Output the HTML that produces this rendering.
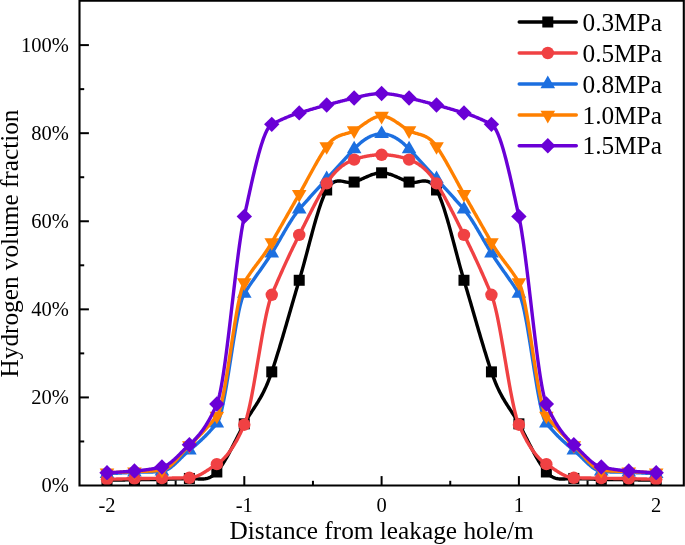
<!DOCTYPE html>
<html><head><meta charset="utf-8"><title>Hydrogen volume fraction</title>
<style>
html,body{margin:0;padding:0;background:#fff;}
body{width:685px;height:545px;overflow:hidden;}
svg{display:block;will-change:transform;}
text{font-family:"Liberation Serif",serif;fill:#000;}
</style></head><body>
<svg width="685" height="545" viewBox="0 0 685 545">
<rect width="685" height="545" fill="#fff"/>
<defs><clipPath id="c"><rect x="80" y="1" width="603" height="484.6"/></clipPath></defs>
<path d="M79.5 441.46h4.7" stroke="#000" stroke-width="2"/>
<path d="M79.5 397.42h9.4" stroke="#000" stroke-width="2"/>
<path d="M79.5 353.38h4.7" stroke="#000" stroke-width="2"/>
<path d="M79.5 309.34h9.4" stroke="#000" stroke-width="2"/>
<path d="M79.5 265.30h4.7" stroke="#000" stroke-width="2"/>
<path d="M79.5 221.26h9.4" stroke="#000" stroke-width="2"/>
<path d="M79.5 177.22h4.7" stroke="#000" stroke-width="2"/>
<path d="M79.5 133.18h9.4" stroke="#000" stroke-width="2"/>
<path d="M79.5 89.14h4.7" stroke="#000" stroke-width="2"/>
<path d="M79.5 45.10h9.4" stroke="#000" stroke-width="2"/>
<path d="M107.00 485.5v-9.4" stroke="#000" stroke-width="2"/>
<path d="M175.65 485.5v-4.7" stroke="#000" stroke-width="2"/>
<path d="M244.30 485.5v-9.4" stroke="#000" stroke-width="2"/>
<path d="M312.95 485.5v-4.7" stroke="#000" stroke-width="2"/>
<path d="M381.60 485.5v-9.4" stroke="#000" stroke-width="2"/>
<path d="M450.25 485.5v-4.7" stroke="#000" stroke-width="2"/>
<path d="M518.90 485.5v-9.4" stroke="#000" stroke-width="2"/>
<path d="M587.55 485.5v-4.7" stroke="#000" stroke-width="2"/>
<path d="M656.20 485.5v-9.4" stroke="#000" stroke-width="2"/>
<g clip-path="url(#c)">
<polyline points="107.00,480.22 107.69,480.20 108.37,480.19 109.06,480.18 109.75,480.17 110.43,480.16 111.12,480.15 111.81,480.14 112.49,480.13 113.18,480.12 113.86,480.11 114.55,480.09 115.24,480.08 115.92,480.07 116.61,480.06 117.30,480.05 117.98,480.04 118.67,480.03 119.36,480.02 120.04,480.01 120.73,480.00 121.42,479.98 122.10,479.97 122.79,479.96 123.48,479.95 124.16,479.94 124.85,479.93 125.54,479.92 126.22,479.91 126.91,479.90 127.59,479.88 128.28,479.87 128.97,479.86 129.65,479.85 130.34,479.84 131.03,479.83 131.71,479.82 132.40,479.81 133.09,479.80 133.77,479.79 134.46,479.77 135.15,479.76 135.83,479.75 136.52,479.74 137.21,479.73 137.89,479.72 138.58,479.71 139.27,479.70 139.95,479.69 140.64,479.68 141.32,479.66 142.01,479.65 142.70,479.64 143.38,479.63 144.07,479.62 144.76,479.61 145.44,479.60 146.13,479.59 146.82,479.58 147.50,479.57 148.19,479.55 148.88,479.54 149.56,479.53 150.25,479.52 150.94,479.51 151.62,479.50 152.31,479.49 153.00,479.48 153.68,479.47 154.37,479.46 155.06,479.44 155.74,479.43 156.43,479.42 157.11,479.41 157.80,479.40 158.49,479.39 159.17,479.38 159.86,479.37 160.55,479.36 161.23,479.35 161.92,479.33 162.61,479.32 163.29,479.31 163.98,479.30 164.67,479.28 165.35,479.27 166.04,479.25 166.73,479.23 167.41,479.22 168.10,479.20 168.79,479.18 169.47,479.16 170.16,479.14 170.84,479.12 171.53,479.10 172.22,479.07 172.90,479.05 173.59,479.03 174.28,479.00 174.96,478.98 175.65,478.96 176.34,478.93 177.02,478.91 177.71,478.88 178.40,478.86 179.08,478.83 179.77,478.81 180.46,478.78 181.14,478.75 181.83,478.73 182.52,478.70 183.20,478.68 183.89,478.65 184.57,478.63 185.26,478.60 185.95,478.58 186.63,478.55 187.32,478.53 188.01,478.50 188.69,478.48 189.38,478.45 190.07,478.44 190.75,478.44 191.44,478.45 192.13,478.48 192.81,478.51 193.50,478.56 194.19,478.60 194.87,478.66 195.56,478.71 196.25,478.77 196.93,478.83 197.62,478.88 198.30,478.93 198.99,478.97 199.68,479.01 200.36,479.03 201.05,479.05 201.74,479.05 202.42,479.03 203.11,479.00 203.80,478.95 204.48,478.88 205.17,478.78 205.86,478.66 206.54,478.52 207.23,478.34 207.92,478.14 208.60,477.91 209.29,477.64 209.98,477.33 210.66,476.99 211.35,476.62 212.03,476.20 212.72,475.74 213.41,475.23 214.09,474.68 214.78,474.08 215.47,473.43 216.15,472.73 216.84,471.98 217.53,471.18 218.21,470.34 218.90,469.47 219.59,468.56 220.27,467.61 220.96,466.63 221.65,465.62 222.33,464.58 223.02,463.52 223.71,462.42 224.39,461.30 225.08,460.15 225.76,458.98 226.45,457.79 227.14,456.58 227.82,455.35 228.51,454.11 229.20,452.84 229.88,451.57 230.57,450.27 231.26,448.97 231.94,447.66 232.63,446.34 233.32,445.01 234.00,443.67 234.69,442.33 235.38,440.99 236.06,439.64 236.75,438.29 237.44,436.95 238.12,435.60 238.81,434.26 239.49,432.93 240.18,431.60 240.87,430.28 241.55,428.97 242.24,427.67 242.93,426.38 243.61,425.10 244.30,423.84 244.99,422.61 245.67,421.40 246.36,420.22 247.05,419.06 247.73,417.93 248.42,416.82 249.11,415.72 249.79,414.63 250.48,413.56 251.17,412.50 251.85,411.44 252.54,410.39 253.22,409.33 253.91,408.28 254.60,407.22 255.28,406.16 255.97,405.08 256.66,404.00 257.34,402.90 258.03,401.78 258.72,400.64 259.40,399.48 260.09,398.30 260.78,397.09 261.46,395.85 262.15,394.57 262.84,393.26 263.52,391.92 264.21,390.53 264.90,389.10 265.58,387.63 266.27,386.10 266.95,384.53 267.64,382.90 268.33,381.22 269.01,379.48 269.70,377.68 270.39,375.81 271.07,373.88 271.76,371.88 272.45,369.83 273.13,367.75 273.82,365.66 274.51,363.54 275.19,361.39 275.88,359.23 276.57,357.05 277.25,354.84 277.94,352.62 278.62,350.39 279.31,348.13 280.00,345.86 280.68,343.58 281.37,341.28 282.06,338.98 282.74,336.66 283.43,334.33 284.12,331.99 284.80,329.65 285.49,327.29 286.18,324.93 286.86,322.57 287.55,320.20 288.24,317.83 288.92,315.46 289.61,313.08 290.30,310.71 290.98,308.33 291.67,305.96 292.36,303.59 293.04,301.23 293.73,298.86 294.41,296.51 295.10,294.16 295.79,291.82 296.47,289.49 297.16,287.17 297.85,284.86 298.53,282.56 299.22,280.27 299.91,277.97 300.59,275.62 301.28,273.23 301.97,270.80 302.65,268.34 303.34,265.85 304.03,263.33 304.71,260.79 305.40,258.22 306.09,255.65 306.77,253.06 307.46,250.46 308.14,247.86 308.83,245.26 309.52,242.67 310.20,240.08 310.89,237.50 311.58,234.94 312.26,232.40 312.95,229.87 313.64,227.38 314.32,224.91 315.01,222.48 315.70,220.09 316.38,217.74 317.07,215.43 317.76,213.17 318.44,210.97 319.13,208.82 319.82,206.73 320.50,204.71 321.19,202.75 321.87,200.86 322.56,199.05 323.25,197.32 323.93,195.68 324.62,194.12 325.31,192.65 325.99,191.27 326.68,189.99 327.37,188.82 328.05,187.74 328.74,186.76 329.43,185.87 330.11,185.07 330.80,184.36 331.49,183.73 332.17,183.17 332.86,182.69 333.55,182.27 334.23,181.92 334.92,181.63 335.60,181.39 336.29,181.21 336.98,181.08 337.66,180.99 338.35,180.95 339.04,180.94 339.72,180.96 340.41,181.02 341.10,181.09 341.78,181.19 342.47,181.31 343.16,181.44 343.84,181.58 344.53,181.72 345.22,181.86 345.90,182.01 346.59,182.14 347.28,182.27 347.96,182.38 348.65,182.47 349.33,182.54 350.02,182.58 350.71,182.60 351.39,182.57 352.08,182.51 352.77,182.41 353.45,182.26 354.14,182.06 354.83,181.83 355.51,181.59 356.20,181.34 356.89,181.08 357.57,180.81 358.26,180.53 358.95,180.24 359.63,179.95 360.32,179.65 361.01,179.35 361.69,179.05 362.38,178.74 363.06,178.44 363.75,178.13 364.44,177.82 365.12,177.51 365.81,177.21 366.50,176.91 367.18,176.61 367.87,176.31 368.56,176.03 369.24,175.75 369.93,175.47 370.62,175.21 371.30,174.95 371.99,174.70 372.68,174.47 373.36,174.25 374.05,174.04 374.74,173.84 375.42,173.66 376.11,173.49 376.79,173.34 377.48,173.21 378.17,173.09 378.85,172.99 379.54,172.92 380.23,172.86 380.91,172.83 381.60,172.82 382.29,172.83 382.97,172.86 383.66,172.92 384.35,172.99 385.03,173.09 385.72,173.21 386.41,173.34 387.09,173.49 387.78,173.66 388.47,173.84 389.15,174.04 389.84,174.25 390.52,174.47 391.21,174.70 391.90,174.95 392.58,175.21 393.27,175.47 393.96,175.75 394.64,176.03 395.33,176.31 396.02,176.61 396.70,176.91 397.39,177.21 398.08,177.51 398.76,177.82 399.45,178.13 400.14,178.44 400.82,178.74 401.51,179.05 402.20,179.35 402.88,179.65 403.57,179.95 404.25,180.24 404.94,180.53 405.63,180.81 406.31,181.08 407.00,181.34 407.69,181.59 408.37,181.83 409.06,182.06 409.75,182.26 410.43,182.41 411.12,182.51 411.81,182.57 412.49,182.60 413.18,182.58 413.87,182.54 414.55,182.47 415.24,182.38 415.93,182.27 416.61,182.14 417.30,182.01 417.98,181.86 418.67,181.72 419.36,181.58 420.04,181.44 420.73,181.31 421.42,181.19 422.10,181.09 422.79,181.02 423.48,180.96 424.16,180.94 424.85,180.95 425.54,180.99 426.22,181.08 426.91,181.21 427.60,181.39 428.28,181.63 428.97,181.92 429.66,182.27 430.34,182.69 431.03,183.17 431.71,183.73 432.40,184.36 433.09,185.07 433.77,185.87 434.46,186.76 435.15,187.74 435.83,188.82 436.52,189.99 437.21,191.27 437.89,192.65 438.58,194.12 439.27,195.68 439.95,197.32 440.64,199.05 441.33,200.86 442.01,202.75 442.70,204.71 443.39,206.73 444.07,208.82 444.76,210.97 445.44,213.17 446.13,215.43 446.82,217.74 447.50,220.09 448.19,222.48 448.88,224.91 449.56,227.38 450.25,229.87 450.94,232.40 451.62,234.94 452.31,237.50 453.00,240.08 453.68,242.67 454.37,245.26 455.06,247.86 455.74,250.46 456.43,253.06 457.12,255.65 457.80,258.22 458.49,260.79 459.17,263.33 459.86,265.85 460.55,268.34 461.23,270.80 461.92,273.23 462.61,275.62 463.29,277.97 463.98,280.27 464.67,282.56 465.35,284.86 466.04,287.17 466.73,289.49 467.41,291.82 468.10,294.16 468.79,296.51 469.47,298.86 470.16,301.23 470.85,303.59 471.53,305.96 472.22,308.33 472.90,310.71 473.59,313.08 474.28,315.46 474.96,317.83 475.65,320.20 476.34,322.57 477.02,324.93 477.71,327.29 478.40,329.65 479.08,331.99 479.77,334.33 480.46,336.66 481.14,338.98 481.83,341.28 482.52,343.58 483.20,345.86 483.89,348.13 484.58,350.39 485.26,352.62 485.95,354.84 486.63,357.05 487.32,359.23 488.01,361.39 488.69,363.54 489.38,365.66 490.07,367.75 490.75,369.83 491.44,371.88 492.13,373.88 492.81,375.81 493.50,377.68 494.19,379.48 494.87,381.22 495.56,382.90 496.25,384.53 496.93,386.10 497.62,387.63 498.31,389.10 498.99,390.53 499.68,391.92 500.36,393.26 501.05,394.57 501.74,395.85 502.42,397.09 503.11,398.30 503.80,399.48 504.48,400.64 505.17,401.78 505.86,402.90 506.54,404.00 507.23,405.08 507.92,406.16 508.60,407.22 509.29,408.28 509.98,409.33 510.66,410.39 511.35,411.44 512.04,412.50 512.72,413.56 513.41,414.63 514.09,415.72 514.78,416.82 515.47,417.93 516.15,419.06 516.84,420.22 517.53,421.40 518.21,422.61 518.90,423.84 519.59,425.10 520.27,426.38 520.96,427.67 521.65,428.97 522.33,430.28 523.02,431.60 523.71,432.93 524.39,434.26 525.08,435.60 525.77,436.95 526.45,438.29 527.14,439.64 527.82,440.99 528.51,442.33 529.20,443.67 529.88,445.01 530.57,446.34 531.26,447.66 531.94,448.97 532.63,450.27 533.32,451.57 534.00,452.84 534.69,454.11 535.38,455.35 536.06,456.58 536.75,457.79 537.44,458.98 538.12,460.15 538.81,461.30 539.50,462.42 540.18,463.52 540.87,464.58 541.55,465.62 542.24,466.63 542.93,467.61 543.61,468.56 544.30,469.47 544.99,470.34 545.67,471.18 546.36,471.98 547.05,472.73 547.73,473.43 548.42,474.08 549.11,474.68 549.79,475.23 550.48,475.74 551.17,476.20 551.85,476.62 552.54,476.99 553.23,477.33 553.91,477.64 554.60,477.91 555.28,478.14 555.97,478.34 556.66,478.52 557.34,478.66 558.03,478.78 558.72,478.88 559.40,478.95 560.09,479.00 560.78,479.03 561.46,479.05 562.15,479.05 562.84,479.03 563.52,479.01 564.21,478.97 564.90,478.93 565.58,478.88 566.27,478.83 566.96,478.77 567.64,478.71 568.33,478.66 569.01,478.60 569.70,478.56 570.39,478.51 571.07,478.48 571.76,478.45 572.45,478.44 573.13,478.44 573.82,478.45 574.51,478.48 575.19,478.50 575.88,478.53 576.57,478.55 577.25,478.58 577.94,478.60 578.63,478.63 579.31,478.65 580.00,478.68 580.69,478.70 581.37,478.73 582.06,478.75 582.74,478.78 583.43,478.81 584.12,478.83 584.80,478.86 585.49,478.88 586.18,478.91 586.86,478.93 587.55,478.96 588.24,478.98 588.92,479.00 589.61,479.03 590.30,479.05 590.98,479.07 591.67,479.10 592.36,479.12 593.04,479.14 593.73,479.16 594.42,479.18 595.10,479.20 595.79,479.22 596.47,479.23 597.16,479.25 597.85,479.27 598.53,479.28 599.22,479.30 599.91,479.31 600.59,479.32 601.28,479.33 601.97,479.35 602.65,479.36 603.34,479.37 604.03,479.38 604.71,479.39 605.40,479.40 606.09,479.41 606.77,479.42 607.46,479.43 608.15,479.44 608.83,479.46 609.52,479.47 610.20,479.48 610.89,479.49 611.58,479.50 612.26,479.51 612.95,479.52 613.64,479.53 614.32,479.54 615.01,479.55 615.70,479.57 616.38,479.58 617.07,479.59 617.76,479.60 618.44,479.61 619.13,479.62 619.82,479.63 620.50,479.64 621.19,479.65 621.88,479.66 622.56,479.68 623.25,479.69 623.93,479.70 624.62,479.71 625.31,479.72 625.99,479.73 626.68,479.74 627.37,479.75 628.05,479.76 628.74,479.77 629.43,479.79 630.11,479.80 630.80,479.81 631.49,479.82 632.17,479.83 632.86,479.84 633.55,479.85 634.23,479.86 634.92,479.87 635.61,479.88 636.29,479.90 636.98,479.91 637.66,479.92 638.35,479.93 639.04,479.94 639.72,479.95 640.41,479.96 641.10,479.97 641.78,479.98 642.47,480.00 643.16,480.01 643.84,480.02 644.53,480.03 645.22,480.04 645.90,480.05 646.59,480.06 647.28,480.07 647.96,480.08 648.65,480.09 649.34,480.11 650.02,480.12 650.71,480.13 651.39,480.14 652.08,480.15 652.77,480.16 653.45,480.17 654.14,480.18 654.83,480.19 655.51,480.20 656.20,480.22" fill="none" stroke="#000000" stroke-width="3.4" stroke-linejoin="round" stroke-linecap="round"/>
<rect x="101.50" y="474.72" width="11.0" height="11.0" fill="#000000"/>
<rect x="128.96" y="474.27" width="11.0" height="11.0" fill="#000000"/>
<rect x="156.42" y="473.83" width="11.0" height="11.0" fill="#000000"/>
<rect x="183.88" y="472.95" width="11.0" height="11.0" fill="#000000"/>
<rect x="211.34" y="466.48" width="11.0" height="11.0" fill="#000000"/>
<rect x="238.80" y="418.34" width="11.0" height="11.0" fill="#000000"/>
<rect x="266.26" y="366.38" width="11.0" height="11.0" fill="#000000"/>
<rect x="293.72" y="274.77" width="11.0" height="11.0" fill="#000000"/>
<rect x="321.18" y="184.49" width="11.0" height="11.0" fill="#000000"/>
<rect x="348.64" y="176.56" width="11.0" height="11.0" fill="#000000"/>
<rect x="376.10" y="167.32" width="11.0" height="11.0" fill="#000000"/>
<rect x="403.56" y="176.56" width="11.0" height="11.0" fill="#000000"/>
<rect x="431.02" y="184.49" width="11.0" height="11.0" fill="#000000"/>
<rect x="458.48" y="274.77" width="11.0" height="11.0" fill="#000000"/>
<rect x="485.94" y="366.38" width="11.0" height="11.0" fill="#000000"/>
<rect x="513.40" y="418.34" width="11.0" height="11.0" fill="#000000"/>
<rect x="540.86" y="466.48" width="11.0" height="11.0" fill="#000000"/>
<rect x="568.32" y="472.95" width="11.0" height="11.0" fill="#000000"/>
<rect x="595.78" y="473.83" width="11.0" height="11.0" fill="#000000"/>
<rect x="623.24" y="474.27" width="11.0" height="11.0" fill="#000000"/>
<rect x="650.70" y="474.72" width="11.0" height="11.0" fill="#000000"/>
<polyline points="107.00,473.79 107.69,473.74 108.37,473.70 109.06,473.65 109.75,473.61 110.43,473.57 111.12,473.53 111.81,473.49 112.49,473.45 113.18,473.41 113.86,473.37 114.55,473.33 115.24,473.29 115.92,473.25 116.61,473.21 117.30,473.18 117.98,473.14 118.67,473.10 119.36,473.07 120.04,473.03 120.73,473.00 121.42,472.96 122.10,472.92 122.79,472.89 123.48,472.85 124.16,472.82 124.85,472.78 125.54,472.75 126.22,472.72 126.91,472.68 127.59,472.65 128.28,472.61 128.97,472.58 129.65,472.54 130.34,472.50 131.03,472.47 131.71,472.43 132.40,472.40 133.09,472.36 133.77,472.32 134.46,472.29 135.15,472.25 135.83,472.22 136.52,472.19 137.21,472.17 137.89,472.15 138.58,472.13 139.27,472.11 139.95,472.10 140.64,472.09 141.32,472.08 142.01,472.07 142.70,472.06 143.38,472.05 144.07,472.05 144.76,472.04 145.44,472.04 146.13,472.03 146.82,472.03 147.50,472.02 148.19,472.02 148.88,472.01 149.56,472.01 150.25,472.00 150.94,471.99 151.62,471.97 152.31,471.96 153.00,471.94 153.68,471.92 154.37,471.90 155.06,471.88 155.74,471.85 156.43,471.82 157.11,471.78 157.80,471.74 158.49,471.70 159.17,471.65 159.86,471.60 160.55,471.54 161.23,471.48 161.92,471.41 162.61,471.31 163.29,471.18 163.98,471.00 164.67,470.78 165.35,470.53 166.04,470.24 166.73,469.91 167.41,469.55 168.10,469.16 168.79,468.74 169.47,468.29 170.16,467.81 170.84,467.31 171.53,466.79 172.22,466.24 172.90,465.68 173.59,465.09 174.28,464.49 174.96,463.87 175.65,463.24 176.34,462.60 177.02,461.95 177.71,461.28 178.40,460.61 179.08,459.94 179.77,459.26 180.46,458.58 181.14,457.90 181.83,457.22 182.52,456.54 183.20,455.87 183.89,455.20 184.57,454.54 185.26,453.89 185.95,453.25 186.63,452.62 187.32,452.01 188.01,451.41 188.69,450.83 189.38,450.27 190.07,449.71 190.75,449.16 191.44,448.59 192.13,448.02 192.81,447.45 193.50,446.88 194.19,446.29 194.87,445.71 195.56,445.11 196.25,444.51 196.93,443.91 197.62,443.30 198.30,442.69 198.99,442.07 199.68,441.44 200.36,440.81 201.05,440.17 201.74,439.52 202.42,438.87 203.11,438.21 203.80,437.54 204.48,436.87 205.17,436.19 205.86,435.50 206.54,434.80 207.23,434.10 207.92,433.39 208.60,432.67 209.29,431.95 209.98,431.21 210.66,430.47 211.35,429.72 212.03,428.96 212.72,428.20 213.41,427.42 214.09,426.63 214.78,425.84 215.47,425.04 216.15,424.23 216.84,423.40 217.53,422.40 218.21,421.07 218.90,419.42 219.59,417.48 220.27,415.25 220.96,412.76 221.65,410.02 222.33,407.05 223.02,403.86 223.71,400.48 224.39,396.93 225.08,393.21 225.76,389.35 226.45,385.36 227.14,381.26 227.82,377.07 228.51,372.80 229.20,368.47 229.88,364.11 230.57,359.72 231.26,355.33 231.94,350.94 232.63,346.58 233.32,342.27 234.00,338.02 234.69,333.86 235.38,329.78 236.06,325.82 236.75,322.00 237.44,318.32 238.12,314.81 238.81,311.48 239.49,308.35 240.18,305.43 240.87,302.76 241.55,300.33 242.24,298.17 242.93,296.30 243.61,294.73 244.30,293.49 244.99,292.41 245.67,291.34 246.36,290.29 247.05,289.24 247.73,288.21 248.42,287.18 249.11,286.16 249.79,285.15 250.48,284.14 251.17,283.14 251.85,282.14 252.54,281.15 253.22,280.17 253.91,279.19 254.60,278.21 255.28,277.23 255.97,276.26 256.66,275.29 257.34,274.32 258.03,273.35 258.72,272.38 259.40,271.41 260.09,270.44 260.78,269.46 261.46,268.49 262.15,267.51 262.84,266.53 263.52,265.54 264.21,264.55 264.90,263.56 265.58,262.55 266.27,261.55 266.95,260.53 267.64,259.51 268.33,258.48 269.01,257.44 269.70,256.39 270.39,255.34 271.07,254.27 271.76,253.19 272.45,252.10 273.13,250.99 273.82,249.87 274.51,248.74 275.19,247.59 275.88,246.44 276.57,245.27 277.25,244.10 277.94,242.92 278.62,241.74 279.31,240.55 280.00,239.36 280.68,238.16 281.37,236.97 282.06,235.77 282.74,234.58 283.43,233.39 284.12,232.20 284.80,231.02 285.49,229.84 286.18,228.67 286.86,227.51 287.55,226.36 288.24,225.22 288.92,224.09 289.61,222.98 290.30,221.88 290.98,220.79 291.67,219.72 292.36,218.67 293.04,217.63 293.73,216.62 294.41,215.63 295.10,214.66 295.79,213.71 296.47,212.79 297.16,211.89 297.85,211.02 298.53,210.18 299.22,209.37 299.91,208.57 300.59,207.78 301.28,206.99 301.97,206.21 302.65,205.43 303.34,204.65 304.03,203.87 304.71,203.09 305.40,202.32 306.09,201.55 306.77,200.79 307.46,200.02 308.14,199.26 308.83,198.50 309.52,197.74 310.20,196.98 310.89,196.22 311.58,195.47 312.26,194.71 312.95,193.96 313.64,193.21 314.32,192.46 315.01,191.71 315.70,190.96 316.38,190.22 317.07,189.47 317.76,188.72 318.44,187.97 319.13,187.23 319.82,186.48 320.50,185.73 321.19,184.98 321.87,184.24 322.56,183.49 323.25,182.74 323.93,181.99 324.62,181.24 325.31,180.49 325.99,179.74 326.68,178.98 327.37,178.23 328.05,177.47 328.74,176.72 329.43,175.97 330.11,175.21 330.80,174.46 331.49,173.71 332.17,172.96 332.86,172.20 333.55,171.45 334.23,170.70 334.92,169.95 335.60,169.20 336.29,168.45 336.98,167.70 337.66,166.95 338.35,166.20 339.04,165.45 339.72,164.70 340.41,163.95 341.10,163.20 341.78,162.46 342.47,161.71 343.16,160.96 343.84,160.21 344.53,159.47 345.22,158.72 345.90,157.97 346.59,157.23 347.28,156.48 347.96,155.73 348.65,154.99 349.33,154.24 350.02,153.50 350.71,152.75 351.39,152.01 352.08,151.27 352.77,150.52 353.45,149.78 354.14,149.03 354.83,148.30 355.51,147.58 356.20,146.88 356.89,146.20 357.57,145.54 358.26,144.89 358.95,144.26 359.63,143.65 360.32,143.05 361.01,142.48 361.69,141.92 362.38,141.38 363.06,140.86 363.75,140.36 364.44,139.87 365.12,139.40 365.81,138.96 366.50,138.53 367.18,138.11 367.87,137.72 368.56,137.35 369.24,136.99 369.93,136.65 370.62,136.33 371.30,136.03 371.99,135.75 372.68,135.49 373.36,135.25 374.05,135.03 374.74,134.82 375.42,134.64 376.11,134.47 376.79,134.32 377.48,134.19 378.17,134.09 378.85,134.00 379.54,133.93 380.23,133.88 380.91,133.85 381.60,133.84 382.29,133.85 382.97,133.88 383.66,133.93 384.35,134.00 385.03,134.09 385.72,134.19 386.41,134.32 387.09,134.47 387.78,134.64 388.47,134.82 389.15,135.03 389.84,135.25 390.52,135.49 391.21,135.75 391.90,136.03 392.58,136.33 393.27,136.65 393.96,136.99 394.64,137.35 395.33,137.72 396.02,138.11 396.70,138.53 397.39,138.96 398.08,139.40 398.76,139.87 399.45,140.36 400.14,140.86 400.82,141.38 401.51,141.92 402.20,142.48 402.88,143.05 403.57,143.65 404.25,144.26 404.94,144.89 405.63,145.54 406.31,146.20 407.00,146.88 407.69,147.58 408.37,148.30 409.06,149.03 409.75,149.78 410.43,150.52 411.12,151.27 411.81,152.01 412.49,152.75 413.18,153.50 413.87,154.24 414.55,154.99 415.24,155.73 415.93,156.48 416.61,157.23 417.30,157.97 417.98,158.72 418.67,159.47 419.36,160.21 420.04,160.96 420.73,161.71 421.42,162.46 422.10,163.20 422.79,163.95 423.48,164.70 424.16,165.45 424.85,166.20 425.54,166.95 426.22,167.70 426.91,168.45 427.60,169.20 428.28,169.95 428.97,170.70 429.66,171.45 430.34,172.20 431.03,172.96 431.71,173.71 432.40,174.46 433.09,175.21 433.77,175.97 434.46,176.72 435.15,177.47 435.83,178.23 436.52,178.98 437.21,179.74 437.89,180.49 438.58,181.24 439.27,181.99 439.95,182.74 440.64,183.49 441.33,184.24 442.01,184.98 442.70,185.73 443.39,186.48 444.07,187.23 444.76,187.97 445.44,188.72 446.13,189.47 446.82,190.22 447.50,190.96 448.19,191.71 448.88,192.46 449.56,193.21 450.25,193.96 450.94,194.71 451.62,195.47 452.31,196.22 453.00,196.98 453.68,197.74 454.37,198.50 455.06,199.26 455.74,200.02 456.43,200.79 457.12,201.55 457.80,202.32 458.49,203.09 459.17,203.87 459.86,204.65 460.55,205.43 461.23,206.21 461.92,206.99 462.61,207.78 463.29,208.57 463.98,209.37 464.67,210.18 465.35,211.02 466.04,211.89 466.73,212.79 467.41,213.71 468.10,214.66 468.79,215.63 469.47,216.62 470.16,217.63 470.85,218.67 471.53,219.72 472.22,220.79 472.90,221.88 473.59,222.98 474.28,224.09 474.96,225.22 475.65,226.36 476.34,227.51 477.02,228.67 477.71,229.84 478.40,231.02 479.08,232.20 479.77,233.39 480.46,234.58 481.14,235.77 481.83,236.97 482.52,238.16 483.20,239.36 483.89,240.55 484.58,241.74 485.26,242.92 485.95,244.10 486.63,245.27 487.32,246.44 488.01,247.59 488.69,248.74 489.38,249.87 490.07,250.99 490.75,252.10 491.44,253.19 492.13,254.27 492.81,255.34 493.50,256.39 494.19,257.44 494.87,258.48 495.56,259.51 496.25,260.53 496.93,261.55 497.62,262.55 498.31,263.56 498.99,264.55 499.68,265.54 500.36,266.53 501.05,267.51 501.74,268.49 502.42,269.46 503.11,270.44 503.80,271.41 504.48,272.38 505.17,273.35 505.86,274.32 506.54,275.29 507.23,276.26 507.92,277.23 508.60,278.21 509.29,279.19 509.98,280.17 510.66,281.15 511.35,282.14 512.04,283.14 512.72,284.14 513.41,285.15 514.09,286.16 514.78,287.18 515.47,288.21 516.15,289.24 516.84,290.29 517.53,291.34 518.21,292.41 518.90,293.49 519.59,294.73 520.27,296.30 520.96,298.17 521.65,300.33 522.33,302.76 523.02,305.43 523.71,308.35 524.39,311.48 525.08,314.81 525.77,318.32 526.45,322.00 527.14,325.82 527.82,329.78 528.51,333.86 529.20,338.02 529.88,342.27 530.57,346.58 531.26,350.94 531.94,355.33 532.63,359.72 533.32,364.11 534.00,368.47 534.69,372.80 535.38,377.07 536.06,381.26 536.75,385.36 537.44,389.35 538.12,393.21 538.81,396.93 539.50,400.48 540.18,403.86 540.87,407.05 541.55,410.02 542.24,412.76 542.93,415.25 543.61,417.48 544.30,419.42 544.99,421.07 545.67,422.40 546.36,423.40 547.05,424.23 547.73,425.04 548.42,425.84 549.11,426.63 549.79,427.42 550.48,428.20 551.17,428.96 551.85,429.72 552.54,430.47 553.23,431.21 553.91,431.95 554.60,432.67 555.28,433.39 555.97,434.10 556.66,434.80 557.34,435.50 558.03,436.19 558.72,436.87 559.40,437.54 560.09,438.21 560.78,438.87 561.46,439.52 562.15,440.17 562.84,440.81 563.52,441.44 564.21,442.07 564.90,442.69 565.58,443.30 566.27,443.91 566.96,444.51 567.64,445.11 568.33,445.71 569.01,446.29 569.70,446.88 570.39,447.45 571.07,448.02 571.76,448.59 572.45,449.16 573.13,449.71 573.82,450.27 574.51,450.83 575.19,451.41 575.88,452.01 576.57,452.62 577.25,453.25 577.94,453.89 578.63,454.54 579.31,455.20 580.00,455.87 580.69,456.54 581.37,457.22 582.06,457.90 582.74,458.58 583.43,459.26 584.12,459.94 584.80,460.61 585.49,461.28 586.18,461.95 586.86,462.60 587.55,463.24 588.24,463.87 588.92,464.49 589.61,465.09 590.30,465.68 590.98,466.24 591.67,466.79 592.36,467.31 593.04,467.81 593.73,468.29 594.42,468.74 595.10,469.16 595.79,469.55 596.47,469.91 597.16,470.24 597.85,470.53 598.53,470.78 599.22,471.00 599.91,471.18 600.59,471.31 601.28,471.41 601.97,471.48 602.65,471.54 603.34,471.60 604.03,471.65 604.71,471.70 605.40,471.74 606.09,471.78 606.77,471.82 607.46,471.85 608.15,471.88 608.83,471.90 609.52,471.92 610.20,471.94 610.89,471.96 611.58,471.97 612.26,471.99 612.95,472.00 613.64,472.01 614.32,472.01 615.01,472.02 615.70,472.02 616.38,472.03 617.07,472.03 617.76,472.04 618.44,472.04 619.13,472.05 619.82,472.05 620.50,472.06 621.19,472.07 621.88,472.08 622.56,472.09 623.25,472.10 623.93,472.11 624.62,472.13 625.31,472.15 625.99,472.17 626.68,472.19 627.37,472.22 628.05,472.25 628.74,472.29 629.43,472.32 630.11,472.36 630.80,472.40 631.49,472.43 632.17,472.47 632.86,472.50 633.55,472.54 634.23,472.58 634.92,472.61 635.61,472.65 636.29,472.68 636.98,472.72 637.66,472.75 638.35,472.78 639.04,472.82 639.72,472.85 640.41,472.89 641.10,472.92 641.78,472.96 642.47,473.00 643.16,473.03 643.84,473.07 644.53,473.10 645.22,473.14 645.90,473.18 646.59,473.21 647.28,473.25 647.96,473.29 648.65,473.33 649.34,473.37 650.02,473.41 650.71,473.45 651.39,473.49 652.08,473.53 652.77,473.57 653.45,473.61 654.14,473.65 654.83,473.70 655.51,473.74 656.20,473.79" fill="none" stroke="#1C6FE0" stroke-width="3.4" stroke-linejoin="round" stroke-linecap="round"/>
<path d="M107.00 465.39L114.30 477.99L99.70 477.99Z" fill="#1C6FE0"/>
<path d="M134.46 463.89L141.76 476.49L127.16 476.49Z" fill="#1C6FE0"/>
<path d="M161.92 463.01L169.22 475.61L154.62 475.61Z" fill="#1C6FE0"/>
<path d="M189.38 441.87L196.68 454.47L182.08 454.47Z" fill="#1C6FE0"/>
<path d="M216.84 415.00L224.14 427.60L209.54 427.60Z" fill="#1C6FE0"/>
<path d="M244.30 285.09L251.60 297.69L237.00 297.69Z" fill="#1C6FE0"/>
<path d="M271.76 244.79L279.06 257.39L264.46 257.39Z" fill="#1C6FE0"/>
<path d="M299.22 200.97L306.52 213.57L291.92 213.57Z" fill="#1C6FE0"/>
<path d="M326.68 170.58L333.98 183.18L319.38 183.18Z" fill="#1C6FE0"/>
<path d="M354.14 140.63L361.44 153.23L346.84 153.23Z" fill="#1C6FE0"/>
<path d="M381.60 125.44L388.90 138.04L374.30 138.04Z" fill="#1C6FE0"/>
<path d="M409.06 140.63L416.36 153.23L401.76 153.23Z" fill="#1C6FE0"/>
<path d="M436.52 170.58L443.82 183.18L429.22 183.18Z" fill="#1C6FE0"/>
<path d="M463.98 200.97L471.28 213.57L456.68 213.57Z" fill="#1C6FE0"/>
<path d="M491.44 244.79L498.74 257.39L484.14 257.39Z" fill="#1C6FE0"/>
<path d="M518.90 285.09L526.20 297.69L511.60 297.69Z" fill="#1C6FE0"/>
<path d="M546.36 415.00L553.66 427.60L539.06 427.60Z" fill="#1C6FE0"/>
<path d="M573.82 441.87L581.12 454.47L566.52 454.47Z" fill="#1C6FE0"/>
<path d="M601.28 463.01L608.58 475.61L593.98 475.61Z" fill="#1C6FE0"/>
<path d="M628.74 463.89L636.04 476.49L621.44 476.49Z" fill="#1C6FE0"/>
<path d="M656.20 465.39L663.50 477.99L648.90 477.99Z" fill="#1C6FE0"/>
<polyline points="107.00,479.33 107.69,479.32 108.37,479.30 109.06,479.28 109.75,479.26 110.43,479.24 111.12,479.22 111.81,479.20 112.49,479.18 113.18,479.16 113.86,479.14 114.55,479.12 115.24,479.11 115.92,479.09 116.61,479.07 117.30,479.05 117.98,479.03 118.67,479.02 119.36,479.00 120.04,478.98 120.73,478.96 121.42,478.95 122.10,478.93 122.79,478.91 123.48,478.90 124.16,478.88 124.85,478.86 125.54,478.85 126.22,478.83 126.91,478.82 127.59,478.80 128.28,478.79 128.97,478.77 129.65,478.76 130.34,478.75 131.03,478.73 131.71,478.72 132.40,478.71 133.09,478.70 133.77,478.69 134.46,478.67 135.15,478.66 135.83,478.65 136.52,478.64 137.21,478.63 137.89,478.62 138.58,478.61 139.27,478.60 139.95,478.59 140.64,478.57 141.32,478.56 142.01,478.55 142.70,478.54 143.38,478.53 144.07,478.52 144.76,478.51 145.44,478.50 146.13,478.49 146.82,478.48 147.50,478.46 148.19,478.45 148.88,478.44 149.56,478.43 150.25,478.42 150.94,478.41 151.62,478.40 152.31,478.39 153.00,478.38 153.68,478.37 154.37,478.35 155.06,478.34 155.74,478.33 156.43,478.32 157.11,478.31 157.80,478.30 158.49,478.29 159.17,478.28 159.86,478.27 160.55,478.26 161.23,478.24 161.92,478.23 162.61,478.22 163.29,478.21 163.98,478.20 164.67,478.19 165.35,478.18 166.04,478.17 166.73,478.16 167.41,478.15 168.10,478.13 168.79,478.12 169.47,478.11 170.16,478.10 170.84,478.09 171.53,478.08 172.22,478.07 172.90,478.06 173.59,478.05 174.28,478.04 174.96,478.02 175.65,478.01 176.34,478.00 177.02,477.99 177.71,477.98 178.40,477.97 179.08,477.96 179.77,477.95 180.46,477.94 181.14,477.93 181.83,477.91 182.52,477.90 183.20,477.89 183.89,477.88 184.57,477.87 185.26,477.86 185.95,477.85 186.63,477.84 187.32,477.83 188.01,477.82 188.69,477.80 189.38,477.79 190.07,477.77 190.75,477.71 191.44,477.63 192.13,477.53 192.81,477.40 193.50,477.24 194.19,477.06 194.87,476.86 195.56,476.64 196.25,476.39 196.93,476.13 197.62,475.85 198.30,475.55 198.99,475.23 199.68,474.90 200.36,474.55 201.05,474.19 201.74,473.81 202.42,473.43 203.11,473.03 203.80,472.62 204.48,472.20 205.17,471.78 205.86,471.34 206.54,470.90 207.23,470.46 207.92,470.01 208.60,469.55 209.29,469.09 209.98,468.63 210.66,468.17 211.35,467.71 212.03,467.25 212.72,466.80 213.41,466.34 214.09,465.89 214.78,465.44 215.47,465.00 216.15,464.57 216.84,464.14 217.53,463.70 218.21,463.24 218.90,462.75 219.59,462.24 220.27,461.70 220.96,461.13 221.65,460.54 222.33,459.91 223.02,459.27 223.71,458.59 224.39,457.89 225.08,457.15 225.76,456.39 226.45,455.61 227.14,454.79 227.82,453.95 228.51,453.08 229.20,452.17 229.88,451.24 230.57,450.29 231.26,449.30 231.94,448.28 232.63,447.23 233.32,446.15 234.00,445.05 234.69,443.91 235.38,442.74 236.06,441.54 236.75,440.32 237.44,439.06 238.12,437.76 238.81,436.44 239.49,435.09 240.18,433.71 240.87,432.29 241.55,430.84 242.24,429.36 242.93,427.85 243.61,426.30 244.30,424.72 244.99,423.01 245.67,421.06 246.36,418.89 247.05,416.52 247.73,413.94 248.42,411.18 249.11,408.25 249.79,405.16 250.48,401.92 251.17,398.54 251.85,395.05 252.54,391.44 253.22,387.73 253.91,383.93 254.60,380.06 255.28,376.13 255.97,372.15 256.66,368.13 257.34,364.08 258.03,360.02 258.72,355.96 259.40,351.91 260.09,347.89 260.78,343.90 261.46,339.95 262.15,336.07 262.84,332.26 263.52,328.53 264.21,324.90 264.90,321.37 265.58,317.97 266.27,314.70 266.95,311.58 267.64,308.61 268.33,305.82 269.01,303.20 269.70,300.78 270.39,298.57 271.07,296.57 271.76,294.81 272.45,293.16 273.13,291.53 273.82,289.90 274.51,288.28 275.19,286.67 275.88,285.07 276.57,283.47 277.25,281.88 277.94,280.29 278.62,278.72 279.31,277.15 280.00,275.59 280.68,274.04 281.37,272.49 282.06,270.95 282.74,269.42 283.43,267.90 284.12,266.38 284.80,264.87 285.49,263.37 286.18,261.88 286.86,260.39 287.55,258.91 288.24,257.44 288.92,255.97 289.61,254.52 290.30,253.07 290.98,251.63 291.67,250.19 292.36,248.77 293.04,247.35 293.73,245.93 294.41,244.53 295.10,243.13 295.79,241.74 296.47,240.36 297.16,238.99 297.85,237.62 298.53,236.26 299.22,234.91 299.91,233.56 300.59,232.21 301.28,230.85 301.97,229.49 302.65,228.13 303.34,226.76 304.03,225.40 304.71,224.03 305.40,222.66 306.09,221.30 306.77,219.93 307.46,218.57 308.14,217.21 308.83,215.85 309.52,214.49 310.20,213.14 310.89,211.80 311.58,210.46 312.26,209.12 312.95,207.79 313.64,206.47 314.32,205.15 315.01,203.84 315.70,202.54 316.38,201.25 317.07,199.97 317.76,198.70 318.44,197.44 319.13,196.20 319.82,194.96 320.50,193.74 321.19,192.53 321.87,191.33 322.56,190.15 323.25,188.98 323.93,187.83 324.62,186.69 325.31,185.57 325.99,184.47 326.68,183.39 327.37,182.33 328.05,181.29 328.74,180.29 329.43,179.32 330.11,178.38 330.80,177.46 331.49,176.58 332.17,175.72 332.86,174.88 333.55,174.08 334.23,173.29 334.92,172.54 335.60,171.81 336.29,171.10 336.98,170.42 337.66,169.75 338.35,169.12 339.04,168.50 339.72,167.91 340.41,167.33 341.10,166.78 341.78,166.25 342.47,165.74 343.16,165.25 343.84,164.77 344.53,164.32 345.22,163.88 345.90,163.46 346.59,163.06 347.28,162.67 347.96,162.30 348.65,161.95 349.33,161.61 350.02,161.28 350.71,160.97 351.39,160.67 352.08,160.39 352.77,160.11 353.45,159.85 354.14,159.60 354.83,159.36 355.51,159.13 356.20,158.90 356.89,158.68 357.57,158.46 358.26,158.25 358.95,158.05 359.63,157.85 360.32,157.66 361.01,157.48 361.69,157.30 362.38,157.12 363.06,156.96 363.75,156.80 364.44,156.64 365.12,156.50 365.81,156.35 366.50,156.22 367.18,156.09 367.87,155.96 368.56,155.85 369.24,155.73 369.93,155.63 370.62,155.53 371.30,155.44 371.99,155.35 372.68,155.27 373.36,155.19 374.05,155.12 374.74,155.06 375.42,155.00 376.11,154.95 376.79,154.91 377.48,154.87 378.17,154.83 378.85,154.81 379.54,154.79 380.23,154.77 380.91,154.76 381.60,154.76 382.29,154.76 382.97,154.77 383.66,154.79 384.35,154.81 385.03,154.83 385.72,154.87 386.41,154.91 387.09,154.95 387.78,155.00 388.47,155.06 389.15,155.12 389.84,155.19 390.52,155.27 391.21,155.35 391.90,155.44 392.58,155.53 393.27,155.63 393.96,155.73 394.64,155.85 395.33,155.96 396.02,156.09 396.70,156.22 397.39,156.35 398.08,156.50 398.76,156.64 399.45,156.80 400.14,156.96 400.82,157.12 401.51,157.30 402.20,157.48 402.88,157.66 403.57,157.85 404.25,158.05 404.94,158.25 405.63,158.46 406.31,158.68 407.00,158.90 407.69,159.13 408.37,159.36 409.06,159.60 409.75,159.85 410.43,160.11 411.12,160.39 411.81,160.67 412.49,160.97 413.18,161.28 413.87,161.61 414.55,161.95 415.24,162.30 415.93,162.67 416.61,163.06 417.30,163.46 417.98,163.88 418.67,164.32 419.36,164.77 420.04,165.25 420.73,165.74 421.42,166.25 422.10,166.78 422.79,167.33 423.48,167.91 424.16,168.50 424.85,169.12 425.54,169.75 426.22,170.42 426.91,171.10 427.60,171.81 428.28,172.54 428.97,173.29 429.66,174.08 430.34,174.88 431.03,175.72 431.71,176.58 432.40,177.46 433.09,178.38 433.77,179.32 434.46,180.29 435.15,181.29 435.83,182.33 436.52,183.39 437.21,184.47 437.89,185.57 438.58,186.69 439.27,187.83 439.95,188.98 440.64,190.15 441.33,191.33 442.01,192.53 442.70,193.74 443.39,194.96 444.07,196.20 444.76,197.44 445.44,198.70 446.13,199.97 446.82,201.25 447.50,202.54 448.19,203.84 448.88,205.15 449.56,206.47 450.25,207.79 450.94,209.12 451.62,210.46 452.31,211.80 453.00,213.14 453.68,214.49 454.37,215.85 455.06,217.21 455.74,218.57 456.43,219.93 457.12,221.30 457.80,222.66 458.49,224.03 459.17,225.40 459.86,226.76 460.55,228.13 461.23,229.49 461.92,230.85 462.61,232.21 463.29,233.56 463.98,234.91 464.67,236.26 465.35,237.62 466.04,238.99 466.73,240.36 467.41,241.74 468.10,243.13 468.79,244.53 469.47,245.93 470.16,247.35 470.85,248.77 471.53,250.19 472.22,251.63 472.90,253.07 473.59,254.52 474.28,255.97 474.96,257.44 475.65,258.91 476.34,260.39 477.02,261.88 477.71,263.37 478.40,264.87 479.08,266.38 479.77,267.90 480.46,269.42 481.14,270.95 481.83,272.49 482.52,274.04 483.20,275.59 483.89,277.15 484.58,278.72 485.26,280.29 485.95,281.88 486.63,283.47 487.32,285.07 488.01,286.67 488.69,288.28 489.38,289.90 490.07,291.53 490.75,293.16 491.44,294.81 492.13,296.57 492.81,298.57 493.50,300.78 494.19,303.20 494.87,305.82 495.56,308.61 496.25,311.58 496.93,314.70 497.62,317.97 498.31,321.37 498.99,324.90 499.68,328.53 500.36,332.26 501.05,336.07 501.74,339.95 502.42,343.90 503.11,347.89 503.80,351.91 504.48,355.96 505.17,360.02 505.86,364.08 506.54,368.13 507.23,372.15 507.92,376.13 508.60,380.06 509.29,383.93 509.98,387.73 510.66,391.44 511.35,395.05 512.04,398.54 512.72,401.92 513.41,405.16 514.09,408.25 514.78,411.18 515.47,413.94 516.15,416.52 516.84,418.89 517.53,421.06 518.21,423.01 518.90,424.72 519.59,426.30 520.27,427.85 520.96,429.36 521.65,430.84 522.33,432.29 523.02,433.71 523.71,435.09 524.39,436.44 525.08,437.76 525.77,439.06 526.45,440.32 527.14,441.54 527.82,442.74 528.51,443.91 529.20,445.05 529.88,446.15 530.57,447.23 531.26,448.28 531.94,449.30 532.63,450.29 533.32,451.24 534.00,452.17 534.69,453.08 535.38,453.95 536.06,454.79 536.75,455.61 537.44,456.39 538.12,457.15 538.81,457.89 539.50,458.59 540.18,459.27 540.87,459.91 541.55,460.54 542.24,461.13 542.93,461.70 543.61,462.24 544.30,462.75 544.99,463.24 545.67,463.70 546.36,464.14 547.05,464.57 547.73,465.00 548.42,465.44 549.11,465.89 549.79,466.34 550.48,466.80 551.17,467.25 551.85,467.71 552.54,468.17 553.23,468.63 553.91,469.09 554.60,469.55 555.28,470.01 555.97,470.46 556.66,470.90 557.34,471.34 558.03,471.78 558.72,472.20 559.40,472.62 560.09,473.03 560.78,473.43 561.46,473.81 562.15,474.19 562.84,474.55 563.52,474.90 564.21,475.23 564.90,475.55 565.58,475.85 566.27,476.13 566.96,476.39 567.64,476.64 568.33,476.86 569.01,477.06 569.70,477.24 570.39,477.40 571.07,477.53 571.76,477.63 572.45,477.71 573.13,477.77 573.82,477.79 574.51,477.80 575.19,477.82 575.88,477.83 576.57,477.84 577.25,477.85 577.94,477.86 578.63,477.87 579.31,477.88 580.00,477.89 580.69,477.90 581.37,477.91 582.06,477.93 582.74,477.94 583.43,477.95 584.12,477.96 584.80,477.97 585.49,477.98 586.18,477.99 586.86,478.00 587.55,478.01 588.24,478.02 588.92,478.04 589.61,478.05 590.30,478.06 590.98,478.07 591.67,478.08 592.36,478.09 593.04,478.10 593.73,478.11 594.42,478.12 595.10,478.13 595.79,478.15 596.47,478.16 597.16,478.17 597.85,478.18 598.53,478.19 599.22,478.20 599.91,478.21 600.59,478.22 601.28,478.23 601.97,478.24 602.65,478.26 603.34,478.27 604.03,478.28 604.71,478.29 605.40,478.30 606.09,478.31 606.77,478.32 607.46,478.33 608.15,478.34 608.83,478.35 609.52,478.37 610.20,478.38 610.89,478.39 611.58,478.40 612.26,478.41 612.95,478.42 613.64,478.43 614.32,478.44 615.01,478.45 615.70,478.46 616.38,478.48 617.07,478.49 617.76,478.50 618.44,478.51 619.13,478.52 619.82,478.53 620.50,478.54 621.19,478.55 621.88,478.56 622.56,478.57 623.25,478.59 623.93,478.60 624.62,478.61 625.31,478.62 625.99,478.63 626.68,478.64 627.37,478.65 628.05,478.66 628.74,478.67 629.43,478.69 630.11,478.70 630.80,478.71 631.49,478.72 632.17,478.73 632.86,478.75 633.55,478.76 634.23,478.77 634.92,478.79 635.61,478.80 636.29,478.82 636.98,478.83 637.66,478.85 638.35,478.86 639.04,478.88 639.72,478.90 640.41,478.91 641.10,478.93 641.78,478.95 642.47,478.96 643.16,478.98 643.84,479.00 644.53,479.02 645.22,479.03 645.90,479.05 646.59,479.07 647.28,479.09 647.96,479.11 648.65,479.12 649.34,479.14 650.02,479.16 650.71,479.18 651.39,479.20 652.08,479.22 652.77,479.24 653.45,479.26 654.14,479.28 654.83,479.30 655.51,479.32 656.20,479.33" fill="none" stroke="#F04143" stroke-width="3.4" stroke-linejoin="round" stroke-linecap="round"/>
<circle cx="107.00" cy="479.33" r="6.2" fill="#F04143"/>
<circle cx="134.46" cy="478.67" r="6.2" fill="#F04143"/>
<circle cx="161.92" cy="478.23" r="6.2" fill="#F04143"/>
<circle cx="189.38" cy="477.79" r="6.2" fill="#F04143"/>
<circle cx="216.84" cy="464.14" r="6.2" fill="#F04143"/>
<circle cx="244.30" cy="424.72" r="6.2" fill="#F04143"/>
<circle cx="271.76" cy="294.81" r="6.2" fill="#F04143"/>
<circle cx="299.22" cy="234.91" r="6.2" fill="#F04143"/>
<circle cx="326.68" cy="183.39" r="6.2" fill="#F04143"/>
<circle cx="354.14" cy="159.60" r="6.2" fill="#F04143"/>
<circle cx="381.60" cy="154.76" r="6.2" fill="#F04143"/>
<circle cx="409.06" cy="159.60" r="6.2" fill="#F04143"/>
<circle cx="436.52" cy="183.39" r="6.2" fill="#F04143"/>
<circle cx="463.98" cy="234.91" r="6.2" fill="#F04143"/>
<circle cx="491.44" cy="294.81" r="6.2" fill="#F04143"/>
<circle cx="518.90" cy="424.72" r="6.2" fill="#F04143"/>
<circle cx="546.36" cy="464.14" r="6.2" fill="#F04143"/>
<circle cx="573.82" cy="477.79" r="6.2" fill="#F04143"/>
<circle cx="601.28" cy="478.23" r="6.2" fill="#F04143"/>
<circle cx="628.74" cy="478.67" r="6.2" fill="#F04143"/>
<circle cx="656.20" cy="479.33" r="6.2" fill="#F04143"/>
<polyline points="107.00,472.73 107.69,472.71 108.37,472.68 109.06,472.66 109.75,472.64 110.43,472.61 111.12,472.59 111.81,472.56 112.49,472.54 113.18,472.51 113.86,472.48 114.55,472.46 115.24,472.43 115.92,472.40 116.61,472.38 117.30,472.35 117.98,472.32 118.67,472.29 119.36,472.26 120.04,472.24 120.73,472.21 121.42,472.18 122.10,472.15 122.79,472.12 123.48,472.09 124.16,472.06 124.85,472.03 125.54,472.00 126.22,471.97 126.91,471.94 127.59,471.91 128.28,471.88 128.97,471.86 129.65,471.83 130.34,471.80 131.03,471.77 131.71,471.74 132.40,471.71 133.09,471.68 133.77,471.66 134.46,471.63 135.15,471.60 135.83,471.57 136.52,471.55 137.21,471.53 137.89,471.50 138.58,471.48 139.27,471.46 139.95,471.44 140.64,471.41 141.32,471.39 142.01,471.37 142.70,471.35 143.38,471.33 144.07,471.31 144.76,471.28 145.44,471.26 146.13,471.23 146.82,471.21 147.50,471.18 148.19,471.15 148.88,471.12 149.56,471.09 150.25,471.06 150.94,471.02 151.62,470.98 152.31,470.94 153.00,470.90 153.68,470.86 154.37,470.81 155.06,470.76 155.74,470.71 156.43,470.65 157.11,470.60 157.80,470.53 158.49,470.47 159.17,470.40 159.86,470.33 160.55,470.25 161.23,470.17 161.92,470.09 162.61,469.97 163.29,469.81 163.98,469.60 164.67,469.34 165.35,469.04 166.04,468.70 166.73,468.32 167.41,467.89 168.10,467.44 168.79,466.94 169.47,466.42 170.16,465.86 170.84,465.27 171.53,464.66 172.22,464.02 172.90,463.36 173.59,462.67 174.28,461.97 174.96,461.25 175.65,460.51 176.34,459.76 177.02,459.00 177.71,458.23 178.40,457.45 179.08,456.66 179.77,455.87 180.46,455.08 181.14,454.29 181.83,453.50 182.52,452.71 183.20,451.92 183.89,451.15 184.57,450.38 185.26,449.62 185.95,448.88 186.63,448.15 187.32,447.44 188.01,446.75 188.69,446.07 189.38,445.42 190.07,444.78 190.75,444.14 191.44,443.49 192.13,442.84 192.81,442.18 193.50,441.53 194.19,440.86 194.87,440.19 195.56,439.52 196.25,438.84 196.93,438.16 197.62,437.48 198.30,436.79 198.99,436.09 199.68,435.39 200.36,434.68 201.05,433.97 201.74,433.26 202.42,432.53 203.11,431.81 203.80,431.07 204.48,430.33 205.17,429.59 205.86,428.84 206.54,428.08 207.23,427.32 207.92,426.55 208.60,425.77 209.29,424.99 209.98,424.20 210.66,423.40 211.35,422.60 212.03,421.79 212.72,420.97 213.41,420.15 214.09,419.32 214.78,418.48 215.47,417.63 216.15,416.78 216.84,415.92 217.53,414.88 218.21,413.50 218.90,411.80 219.59,409.80 220.27,407.51 220.96,404.95 221.65,402.15 222.33,399.11 223.02,395.85 223.71,392.39 224.39,388.76 225.08,384.95 225.76,381.01 226.45,376.93 227.14,372.74 227.82,368.46 228.51,364.10 229.20,359.68 229.88,355.21 230.57,350.72 231.26,346.23 231.94,341.74 232.63,337.28 233.32,332.87 234.00,328.52 234.69,324.24 235.38,320.07 236.06,316.01 236.75,312.07 237.44,308.29 238.12,304.68 238.81,301.24 239.49,298.01 240.18,295.00 240.87,292.22 241.55,289.70 242.24,287.44 242.93,285.48 243.61,283.81 244.30,282.48 244.99,281.32 245.67,280.18 246.36,279.08 247.05,277.99 247.73,276.93 248.42,275.88 249.11,274.86 249.79,273.85 250.48,272.86 251.17,271.88 251.85,270.92 252.54,269.97 253.22,269.02 253.91,268.09 254.60,267.17 255.28,266.25 255.97,265.33 256.66,264.42 257.34,263.51 258.03,262.60 258.72,261.69 259.40,260.78 260.09,259.87 260.78,258.95 261.46,258.02 262.15,257.08 262.84,256.14 263.52,255.19 264.21,254.22 264.90,253.24 265.58,252.25 266.27,251.24 266.95,250.21 267.64,249.16 268.33,248.09 269.01,247.00 269.70,245.89 270.39,244.75 271.07,243.59 271.76,242.40 272.45,241.19 273.13,239.99 273.82,238.78 274.51,237.58 275.19,236.37 275.88,235.17 276.57,233.96 277.25,232.76 277.94,231.55 278.62,230.34 279.31,229.14 280.00,227.93 280.68,226.73 281.37,225.52 282.06,224.31 282.74,223.11 283.43,221.90 284.12,220.69 284.80,219.49 285.49,218.28 286.18,217.07 286.86,215.87 287.55,214.66 288.24,213.46 288.92,212.25 289.61,211.04 290.30,209.84 290.98,208.63 291.67,207.43 292.36,206.22 293.04,205.02 293.73,203.81 294.41,202.60 295.10,201.40 295.79,200.20 296.47,198.99 297.16,197.79 297.85,196.58 298.53,195.38 299.22,194.18 299.91,192.97 300.59,191.75 301.28,190.53 301.97,189.30 302.65,188.06 303.34,186.82 304.03,185.57 304.71,184.32 305.40,183.06 306.09,181.81 306.77,180.55 307.46,179.29 308.14,178.02 308.83,176.76 309.52,175.50 310.20,174.25 310.89,172.99 311.58,171.74 312.26,170.49 312.95,169.24 313.64,168.00 314.32,166.77 315.01,165.54 315.70,164.32 316.38,163.11 317.07,161.91 317.76,160.71 318.44,159.53 319.13,158.36 319.82,157.20 320.50,156.05 321.19,154.92 321.87,153.79 322.56,152.69 323.25,151.60 323.93,150.52 324.62,149.46 325.31,148.42 325.99,147.40 326.68,146.39 327.37,145.43 328.05,144.52 328.74,143.66 329.43,142.86 330.11,142.11 330.80,141.41 331.49,140.75 332.17,140.13 332.86,139.56 333.55,139.03 334.23,138.53 334.92,138.07 335.60,137.64 336.29,137.25 336.98,136.88 337.66,136.54 338.35,136.22 339.04,135.92 339.72,135.64 340.41,135.39 341.10,135.14 341.78,134.91 342.47,134.69 343.16,134.48 343.84,134.28 344.53,134.08 345.22,133.88 345.90,133.68 346.59,133.48 347.28,133.28 347.96,133.07 348.65,132.85 349.33,132.62 350.02,132.38 350.71,132.13 351.39,131.85 352.08,131.56 352.77,131.24 353.45,130.90 354.14,130.54 354.83,130.15 355.51,129.75 356.20,129.33 356.89,128.90 357.57,128.46 358.26,128.01 358.95,127.55 359.63,127.09 360.32,126.61 361.01,126.13 361.69,125.65 362.38,125.17 363.06,124.68 363.75,124.20 364.44,123.72 365.12,123.24 365.81,122.76 366.50,122.29 367.18,121.83 367.87,121.38 368.56,120.93 369.24,120.50 369.93,120.07 370.62,119.66 371.30,119.27 371.99,118.89 372.68,118.53 373.36,118.19 374.05,117.87 374.74,117.56 375.42,117.29 376.11,117.03 376.79,116.80 377.48,116.60 378.17,116.42 378.85,116.27 379.54,116.16 380.23,116.07 380.91,116.02 381.60,116.00 382.29,116.02 382.97,116.07 383.66,116.16 384.35,116.27 385.03,116.42 385.72,116.60 386.41,116.80 387.09,117.03 387.78,117.29 388.47,117.56 389.15,117.87 389.84,118.19 390.52,118.53 391.21,118.89 391.90,119.27 392.58,119.66 393.27,120.07 393.96,120.50 394.64,120.93 395.33,121.38 396.02,121.83 396.70,122.29 397.39,122.76 398.08,123.24 398.76,123.72 399.45,124.20 400.14,124.68 400.82,125.17 401.51,125.65 402.20,126.13 402.88,126.61 403.57,127.09 404.25,127.55 404.94,128.01 405.63,128.46 406.31,128.90 407.00,129.33 407.69,129.75 408.37,130.15 409.06,130.54 409.75,130.90 410.43,131.24 411.12,131.56 411.81,131.85 412.49,132.13 413.18,132.38 413.87,132.62 414.55,132.85 415.24,133.07 415.93,133.28 416.61,133.48 417.30,133.68 417.98,133.88 418.67,134.08 419.36,134.28 420.04,134.48 420.73,134.69 421.42,134.91 422.10,135.14 422.79,135.39 423.48,135.64 424.16,135.92 424.85,136.22 425.54,136.54 426.22,136.88 426.91,137.25 427.60,137.64 428.28,138.07 428.97,138.53 429.66,139.03 430.34,139.56 431.03,140.13 431.71,140.75 432.40,141.41 433.09,142.11 433.77,142.86 434.46,143.66 435.15,144.52 435.83,145.43 436.52,146.39 437.21,147.40 437.89,148.42 438.58,149.46 439.27,150.52 439.95,151.60 440.64,152.69 441.33,153.79 442.01,154.92 442.70,156.05 443.39,157.20 444.07,158.36 444.76,159.53 445.44,160.71 446.13,161.91 446.82,163.11 447.50,164.32 448.19,165.54 448.88,166.77 449.56,168.00 450.25,169.24 450.94,170.49 451.62,171.74 452.31,172.99 453.00,174.25 453.68,175.50 454.37,176.76 455.06,178.02 455.74,179.29 456.43,180.55 457.12,181.81 457.80,183.06 458.49,184.32 459.17,185.57 459.86,186.82 460.55,188.06 461.23,189.30 461.92,190.53 462.61,191.75 463.29,192.97 463.98,194.18 464.67,195.38 465.35,196.58 466.04,197.79 466.73,198.99 467.41,200.20 468.10,201.40 468.79,202.60 469.47,203.81 470.16,205.02 470.85,206.22 471.53,207.43 472.22,208.63 472.90,209.84 473.59,211.04 474.28,212.25 474.96,213.46 475.65,214.66 476.34,215.87 477.02,217.07 477.71,218.28 478.40,219.49 479.08,220.69 479.77,221.90 480.46,223.11 481.14,224.31 481.83,225.52 482.52,226.73 483.20,227.93 483.89,229.14 484.58,230.34 485.26,231.55 485.95,232.76 486.63,233.96 487.32,235.17 488.01,236.37 488.69,237.58 489.38,238.78 490.07,239.99 490.75,241.19 491.44,242.40 492.13,243.59 492.81,244.75 493.50,245.89 494.19,247.00 494.87,248.09 495.56,249.16 496.25,250.21 496.93,251.24 497.62,252.25 498.31,253.24 498.99,254.22 499.68,255.19 500.36,256.14 501.05,257.08 501.74,258.02 502.42,258.95 503.11,259.87 503.80,260.78 504.48,261.69 505.17,262.60 505.86,263.51 506.54,264.42 507.23,265.33 507.92,266.25 508.60,267.17 509.29,268.09 509.98,269.02 510.66,269.97 511.35,270.92 512.04,271.88 512.72,272.86 513.41,273.85 514.09,274.86 514.78,275.88 515.47,276.93 516.15,277.99 516.84,279.08 517.53,280.18 518.21,281.32 518.90,282.48 519.59,283.81 520.27,285.48 520.96,287.44 521.65,289.70 522.33,292.22 523.02,295.00 523.71,298.01 524.39,301.24 525.08,304.68 525.77,308.29 526.45,312.07 527.14,316.01 527.82,320.07 528.51,324.24 529.20,328.52 529.88,332.87 530.57,337.28 531.26,341.74 531.94,346.23 532.63,350.72 533.32,355.21 534.00,359.68 534.69,364.10 535.38,368.46 536.06,372.74 536.75,376.93 537.44,381.01 538.12,384.95 538.81,388.76 539.50,392.39 540.18,395.85 540.87,399.11 541.55,402.15 542.24,404.95 542.93,407.51 543.61,409.80 544.30,411.80 544.99,413.50 545.67,414.88 546.36,415.92 547.05,416.78 547.73,417.63 548.42,418.48 549.11,419.32 549.79,420.15 550.48,420.97 551.17,421.79 551.85,422.60 552.54,423.40 553.23,424.20 553.91,424.99 554.60,425.77 555.28,426.55 555.97,427.32 556.66,428.08 557.34,428.84 558.03,429.59 558.72,430.33 559.40,431.07 560.09,431.81 560.78,432.53 561.46,433.26 562.15,433.97 562.84,434.68 563.52,435.39 564.21,436.09 564.90,436.79 565.58,437.48 566.27,438.16 566.96,438.84 567.64,439.52 568.33,440.19 569.01,440.86 569.70,441.53 570.39,442.18 571.07,442.84 571.76,443.49 572.45,444.14 573.13,444.78 573.82,445.42 574.51,446.07 575.19,446.75 575.88,447.44 576.57,448.15 577.25,448.88 577.94,449.62 578.63,450.38 579.31,451.15 580.00,451.92 580.69,452.71 581.37,453.50 582.06,454.29 582.74,455.08 583.43,455.87 584.12,456.66 584.80,457.45 585.49,458.23 586.18,459.00 586.86,459.76 587.55,460.51 588.24,461.25 588.92,461.97 589.61,462.67 590.30,463.36 590.98,464.02 591.67,464.66 592.36,465.27 593.04,465.86 593.73,466.42 594.42,466.94 595.10,467.44 595.79,467.89 596.47,468.32 597.16,468.70 597.85,469.04 598.53,469.34 599.22,469.60 599.91,469.81 600.59,469.97 601.28,470.09 601.97,470.17 602.65,470.25 603.34,470.33 604.03,470.40 604.71,470.47 605.40,470.53 606.09,470.60 606.77,470.65 607.46,470.71 608.15,470.76 608.83,470.81 609.52,470.86 610.20,470.90 610.89,470.94 611.58,470.98 612.26,471.02 612.95,471.06 613.64,471.09 614.32,471.12 615.01,471.15 615.70,471.18 616.38,471.21 617.07,471.23 617.76,471.26 618.44,471.28 619.13,471.31 619.82,471.33 620.50,471.35 621.19,471.37 621.88,471.39 622.56,471.41 623.25,471.44 623.93,471.46 624.62,471.48 625.31,471.50 625.99,471.53 626.68,471.55 627.37,471.57 628.05,471.60 628.74,471.63 629.43,471.66 630.11,471.68 630.80,471.71 631.49,471.74 632.17,471.77 632.86,471.80 633.55,471.83 634.23,471.86 634.92,471.88 635.61,471.91 636.29,471.94 636.98,471.97 637.66,472.00 638.35,472.03 639.04,472.06 639.72,472.09 640.41,472.12 641.10,472.15 641.78,472.18 642.47,472.21 643.16,472.24 643.84,472.26 644.53,472.29 645.22,472.32 645.90,472.35 646.59,472.38 647.28,472.40 647.96,472.43 648.65,472.46 649.34,472.48 650.02,472.51 650.71,472.54 651.39,472.56 652.08,472.59 652.77,472.61 653.45,472.64 654.14,472.66 654.83,472.68 655.51,472.71 656.20,472.73" fill="none" stroke="#FF8000" stroke-width="3.4" stroke-linejoin="round" stroke-linecap="round"/>
<path d="M107.00 481.13L114.30 468.53L99.70 468.53Z" fill="#FF8000"/>
<path d="M134.46 480.03L141.76 467.43L127.16 467.43Z" fill="#FF8000"/>
<path d="M161.92 478.49L169.22 465.89L154.62 465.89Z" fill="#FF8000"/>
<path d="M189.38 453.82L196.68 441.22L182.08 441.22Z" fill="#FF8000"/>
<path d="M216.84 424.32L224.14 411.72L209.54 411.72Z" fill="#FF8000"/>
<path d="M244.30 290.88L251.60 278.28L237.00 278.28Z" fill="#FF8000"/>
<path d="M271.76 250.80L279.06 238.20L264.46 238.20Z" fill="#FF8000"/>
<path d="M299.22 202.58L306.52 189.98L291.92 189.98Z" fill="#FF8000"/>
<path d="M326.68 154.79L333.98 142.19L319.38 142.19Z" fill="#FF8000"/>
<path d="M354.14 138.94L361.44 126.34L346.84 126.34Z" fill="#FF8000"/>
<path d="M381.60 124.40L388.90 111.80L374.30 111.80Z" fill="#FF8000"/>
<path d="M409.06 138.94L416.36 126.34L401.76 126.34Z" fill="#FF8000"/>
<path d="M436.52 154.79L443.82 142.19L429.22 142.19Z" fill="#FF8000"/>
<path d="M463.98 202.58L471.28 189.98L456.68 189.98Z" fill="#FF8000"/>
<path d="M491.44 250.80L498.74 238.20L484.14 238.20Z" fill="#FF8000"/>
<path d="M518.90 290.88L526.20 278.28L511.60 278.28Z" fill="#FF8000"/>
<path d="M546.36 424.32L553.66 411.72L539.06 411.72Z" fill="#FF8000"/>
<path d="M573.82 453.82L581.12 441.22L566.52 441.22Z" fill="#FF8000"/>
<path d="M601.28 478.49L608.58 465.89L593.98 465.89Z" fill="#FF8000"/>
<path d="M628.74 480.03L636.04 467.43L621.44 467.43Z" fill="#FF8000"/>
<path d="M656.20 481.13L663.50 468.53L648.90 468.53Z" fill="#FF8000"/>
<polyline points="107.00,472.73 107.69,472.71 108.37,472.69 109.06,472.67 109.75,472.64 110.43,472.62 111.12,472.59 111.81,472.56 112.49,472.52 113.18,472.49 113.86,472.45 114.55,472.42 115.24,472.38 115.92,472.34 116.61,472.29 117.30,472.25 117.98,472.21 118.67,472.16 119.36,472.11 120.04,472.06 120.73,472.01 121.42,471.96 122.10,471.91 122.79,471.86 123.48,471.81 124.16,471.76 124.85,471.71 125.54,471.65 126.22,471.60 126.91,471.55 127.59,471.49 128.28,471.44 128.97,471.38 129.65,471.33 130.34,471.28 131.03,471.22 131.71,471.17 132.40,471.12 133.09,471.07 133.77,471.02 134.46,470.97 135.15,470.92 135.83,470.86 136.52,470.81 137.21,470.75 137.89,470.69 138.58,470.62 139.27,470.56 139.95,470.49 140.64,470.42 141.32,470.34 142.01,470.27 142.70,470.19 143.38,470.11 144.07,470.02 144.76,469.94 145.44,469.85 146.13,469.76 146.82,469.67 147.50,469.57 148.19,469.47 148.88,469.37 149.56,469.27 150.25,469.17 150.94,469.06 151.62,468.95 152.31,468.83 153.00,468.72 153.68,468.60 154.37,468.48 155.06,468.36 155.74,468.23 156.43,468.11 157.11,467.98 157.80,467.85 158.49,467.71 159.17,467.57 159.86,467.44 160.55,467.29 161.23,467.15 161.92,467.00 162.61,466.84 163.29,466.63 163.98,466.39 164.67,466.12 165.35,465.81 166.04,465.48 166.73,465.11 167.41,464.71 168.10,464.29 168.79,463.84 169.47,463.36 170.16,462.86 170.84,462.34 171.53,461.80 172.22,461.24 172.90,460.66 173.59,460.06 174.28,459.45 174.96,458.82 175.65,458.18 176.34,457.53 177.02,456.87 177.71,456.20 178.40,455.52 179.08,454.84 179.77,454.15 180.46,453.46 181.14,452.76 181.83,452.07 182.52,451.38 183.20,450.68 183.89,450.00 184.57,449.31 185.26,448.63 185.95,447.96 186.63,447.30 187.32,446.65 188.01,446.01 188.69,445.38 189.38,444.76 190.07,444.15 190.75,443.53 191.44,442.89 192.13,442.24 192.81,441.57 193.50,440.89 194.19,440.20 194.87,439.48 195.56,438.75 196.25,438.01 196.93,437.24 197.62,436.46 198.30,435.66 198.99,434.83 199.68,433.99 200.36,433.12 201.05,432.23 201.74,431.32 202.42,430.39 203.11,429.43 203.80,428.44 204.48,427.43 205.17,426.39 205.86,425.33 206.54,424.24 207.23,423.12 207.92,421.97 208.60,420.78 209.29,419.57 209.98,418.33 210.66,417.06 211.35,415.75 212.03,414.41 212.72,413.03 213.41,411.62 214.09,410.18 214.78,408.70 215.47,407.18 216.15,405.62 216.84,404.03 217.53,402.22 218.21,400.05 218.90,397.53 219.59,394.68 220.27,391.51 220.96,388.04 221.65,384.29 222.33,380.28 223.02,376.02 223.71,371.54 224.39,366.84 225.08,361.94 225.76,356.88 226.45,351.65 227.14,346.27 227.82,340.78 228.51,335.17 229.20,329.48 229.88,323.71 230.57,317.89 231.26,312.03 231.94,306.15 232.63,300.26 233.32,294.39 234.00,288.55 234.69,282.75 235.38,277.03 236.06,271.38 236.75,265.84 237.44,260.41 238.12,255.12 238.81,249.98 239.49,245.01 240.18,240.22 240.87,235.64 241.55,231.29 242.24,227.17 242.93,223.30 243.61,219.71 244.30,216.42 244.99,213.26 245.67,210.10 246.36,206.94 247.05,203.77 247.73,200.61 248.42,197.45 249.11,194.31 249.79,191.19 250.48,188.08 251.17,185.00 251.85,181.95 252.54,178.93 253.22,175.95 253.91,173.00 254.60,170.11 255.28,167.26 255.97,164.47 256.66,161.73 257.34,159.05 258.03,156.45 258.72,153.91 259.40,151.44 260.09,149.05 260.78,146.75 261.46,144.53 262.15,142.40 262.84,140.36 263.52,138.43 264.21,136.59 264.90,134.87 265.58,133.25 266.27,131.75 266.95,130.37 267.64,129.11 268.33,127.98 269.01,126.98 269.70,126.11 270.39,125.39 271.07,124.81 271.76,124.37 272.45,124.02 273.13,123.66 273.82,123.31 274.51,122.96 275.19,122.62 275.88,122.28 276.57,121.94 277.25,121.60 277.94,121.27 278.62,120.94 279.31,120.62 280.00,120.30 280.68,119.98 281.37,119.66 282.06,119.35 282.74,119.04 283.43,118.74 284.12,118.44 284.80,118.15 285.49,117.85 286.18,117.56 286.86,117.28 287.55,117.00 288.24,116.72 288.92,116.45 289.61,116.19 290.30,115.92 290.98,115.66 291.67,115.41 292.36,115.16 293.04,114.91 293.73,114.67 294.41,114.44 295.10,114.21 295.79,113.98 296.47,113.76 297.16,113.54 297.85,113.33 298.53,113.12 299.22,112.92 299.91,112.72 300.59,112.52 301.28,112.32 301.97,112.12 302.65,111.92 303.34,111.72 304.03,111.52 304.71,111.32 305.40,111.11 306.09,110.91 306.77,110.71 307.46,110.51 308.14,110.30 308.83,110.10 309.52,109.90 310.20,109.70 310.89,109.49 311.58,109.29 312.26,109.09 312.95,108.89 313.64,108.69 314.32,108.49 315.01,108.29 315.70,108.09 316.38,107.89 317.07,107.69 317.76,107.49 318.44,107.30 319.13,107.10 319.82,106.90 320.50,106.71 321.19,106.51 321.87,106.32 322.56,106.13 323.25,105.94 323.93,105.75 324.62,105.56 325.31,105.37 325.99,105.18 326.68,104.99 327.37,104.81 328.05,104.62 328.74,104.44 329.43,104.26 330.11,104.07 330.80,103.89 331.49,103.71 332.17,103.53 332.86,103.35 333.55,103.17 334.23,102.99 334.92,102.81 335.60,102.63 336.29,102.45 336.98,102.28 337.66,102.10 338.35,101.92 339.04,101.75 339.72,101.57 340.41,101.39 341.10,101.22 341.78,101.04 342.47,100.87 343.16,100.70 343.84,100.52 344.53,100.35 345.22,100.18 345.90,100.00 346.59,99.83 347.28,99.66 347.96,99.49 348.65,99.31 349.33,99.14 350.02,98.97 350.71,98.80 351.39,98.63 352.08,98.46 352.77,98.29 353.45,98.12 354.14,97.95 354.83,97.78 355.51,97.61 356.20,97.44 356.89,97.27 357.57,97.11 358.26,96.94 358.95,96.78 359.63,96.62 360.32,96.46 361.01,96.30 361.69,96.15 362.38,96.00 363.06,95.85 363.75,95.70 364.44,95.56 365.12,95.42 365.81,95.28 366.50,95.15 367.18,95.02 367.87,94.90 368.56,94.77 369.24,94.66 369.93,94.55 370.62,94.44 371.30,94.34 371.99,94.24 372.68,94.15 373.36,94.07 374.05,93.99 374.74,93.91 375.42,93.85 376.11,93.78 376.79,93.73 377.48,93.68 378.17,93.64 378.85,93.61 379.54,93.58 380.23,93.56 380.91,93.55 381.60,93.54 382.29,93.55 382.97,93.56 383.66,93.58 384.35,93.61 385.03,93.64 385.72,93.68 386.41,93.73 387.09,93.78 387.78,93.85 388.47,93.91 389.15,93.99 389.84,94.07 390.52,94.15 391.21,94.24 391.90,94.34 392.58,94.44 393.27,94.55 393.96,94.66 394.64,94.77 395.33,94.90 396.02,95.02 396.70,95.15 397.39,95.28 398.08,95.42 398.76,95.56 399.45,95.70 400.14,95.85 400.82,96.00 401.51,96.15 402.20,96.30 402.88,96.46 403.57,96.62 404.25,96.78 404.94,96.94 405.63,97.11 406.31,97.27 407.00,97.44 407.69,97.61 408.37,97.78 409.06,97.95 409.75,98.12 410.43,98.29 411.12,98.46 411.81,98.63 412.49,98.80 413.18,98.97 413.87,99.14 414.55,99.31 415.24,99.49 415.93,99.66 416.61,99.83 417.30,100.00 417.98,100.18 418.67,100.35 419.36,100.52 420.04,100.70 420.73,100.87 421.42,101.04 422.10,101.22 422.79,101.39 423.48,101.57 424.16,101.75 424.85,101.92 425.54,102.10 426.22,102.28 426.91,102.45 427.60,102.63 428.28,102.81 428.97,102.99 429.66,103.17 430.34,103.35 431.03,103.53 431.71,103.71 432.40,103.89 433.09,104.07 433.77,104.26 434.46,104.44 435.15,104.62 435.83,104.81 436.52,104.99 437.21,105.18 437.89,105.37 438.58,105.56 439.27,105.75 439.95,105.94 440.64,106.13 441.33,106.32 442.01,106.51 442.70,106.71 443.39,106.90 444.07,107.10 444.76,107.30 445.44,107.49 446.13,107.69 446.82,107.89 447.50,108.09 448.19,108.29 448.88,108.49 449.56,108.69 450.25,108.89 450.94,109.09 451.62,109.29 452.31,109.49 453.00,109.70 453.68,109.90 454.37,110.10 455.06,110.30 455.74,110.51 456.43,110.71 457.12,110.91 457.80,111.11 458.49,111.32 459.17,111.52 459.86,111.72 460.55,111.92 461.23,112.12 461.92,112.32 462.61,112.52 463.29,112.72 463.98,112.92 464.67,113.12 465.35,113.33 466.04,113.54 466.73,113.76 467.41,113.98 468.10,114.21 468.79,114.44 469.47,114.67 470.16,114.91 470.85,115.16 471.53,115.41 472.22,115.66 472.90,115.92 473.59,116.19 474.28,116.45 474.96,116.72 475.65,117.00 476.34,117.28 477.02,117.56 477.71,117.85 478.40,118.15 479.08,118.44 479.77,118.74 480.46,119.04 481.14,119.35 481.83,119.66 482.52,119.98 483.20,120.30 483.89,120.62 484.58,120.94 485.26,121.27 485.95,121.60 486.63,121.94 487.32,122.28 488.01,122.62 488.69,122.96 489.38,123.31 490.07,123.66 490.75,124.02 491.44,124.37 492.13,124.81 492.81,125.39 493.50,126.11 494.19,126.98 494.87,127.98 495.56,129.11 496.25,130.37 496.93,131.75 497.62,133.25 498.31,134.87 498.99,136.59 499.68,138.43 500.36,140.36 501.05,142.40 501.74,144.53 502.42,146.75 503.11,149.05 503.80,151.44 504.48,153.91 505.17,156.45 505.86,159.05 506.54,161.73 507.23,164.47 507.92,167.26 508.60,170.11 509.29,173.00 509.98,175.95 510.66,178.93 511.35,181.95 512.04,185.00 512.72,188.08 513.41,191.19 514.09,194.31 514.78,197.45 515.47,200.61 516.15,203.77 516.84,206.94 517.53,210.10 518.21,213.26 518.90,216.42 519.59,219.71 520.27,223.30 520.96,227.17 521.65,231.29 522.33,235.64 523.02,240.22 523.71,245.01 524.39,249.98 525.08,255.12 525.77,260.41 526.45,265.84 527.14,271.38 527.82,277.03 528.51,282.75 529.20,288.55 529.88,294.39 530.57,300.26 531.26,306.15 531.94,312.03 532.63,317.89 533.32,323.71 534.00,329.48 534.69,335.17 535.38,340.78 536.06,346.27 536.75,351.65 537.44,356.88 538.12,361.94 538.81,366.84 539.50,371.54 540.18,376.02 540.87,380.28 541.55,384.29 542.24,388.04 542.93,391.51 543.61,394.68 544.30,397.53 544.99,400.05 545.67,402.22 546.36,404.03 547.05,405.62 547.73,407.18 548.42,408.70 549.11,410.18 549.79,411.62 550.48,413.03 551.17,414.41 551.85,415.75 552.54,417.06 553.23,418.33 553.91,419.57 554.60,420.78 555.28,421.97 555.97,423.12 556.66,424.24 557.34,425.33 558.03,426.39 558.72,427.43 559.40,428.44 560.09,429.43 560.78,430.39 561.46,431.32 562.15,432.23 562.84,433.12 563.52,433.99 564.21,434.83 564.90,435.66 565.58,436.46 566.27,437.24 566.96,438.01 567.64,438.75 568.33,439.48 569.01,440.20 569.70,440.89 570.39,441.57 571.07,442.24 571.76,442.89 572.45,443.53 573.13,444.15 573.82,444.76 574.51,445.38 575.19,446.01 575.88,446.65 576.57,447.30 577.25,447.96 577.94,448.63 578.63,449.31 579.31,450.00 580.00,450.68 580.69,451.38 581.37,452.07 582.06,452.76 582.74,453.46 583.43,454.15 584.12,454.84 584.80,455.52 585.49,456.20 586.18,456.87 586.86,457.53 587.55,458.18 588.24,458.82 588.92,459.45 589.61,460.06 590.30,460.66 590.98,461.24 591.67,461.80 592.36,462.34 593.04,462.86 593.73,463.36 594.42,463.84 595.10,464.29 595.79,464.71 596.47,465.11 597.16,465.48 597.85,465.81 598.53,466.12 599.22,466.39 599.91,466.63 600.59,466.84 601.28,467.00 601.97,467.15 602.65,467.29 603.34,467.44 604.03,467.57 604.71,467.71 605.40,467.85 606.09,467.98 606.77,468.11 607.46,468.23 608.15,468.36 608.83,468.48 609.52,468.60 610.20,468.72 610.89,468.83 611.58,468.95 612.26,469.06 612.95,469.17 613.64,469.27 614.32,469.37 615.01,469.47 615.70,469.57 616.38,469.67 617.07,469.76 617.76,469.85 618.44,469.94 619.13,470.02 619.82,470.11 620.50,470.19 621.19,470.27 621.88,470.34 622.56,470.42 623.25,470.49 623.93,470.56 624.62,470.62 625.31,470.69 625.99,470.75 626.68,470.81 627.37,470.86 628.05,470.92 628.74,470.97 629.43,471.02 630.11,471.07 630.80,471.12 631.49,471.17 632.17,471.22 632.86,471.28 633.55,471.33 634.23,471.38 634.92,471.44 635.61,471.49 636.29,471.55 636.98,471.60 637.66,471.65 638.35,471.71 639.04,471.76 639.72,471.81 640.41,471.86 641.10,471.91 641.78,471.96 642.47,472.01 643.16,472.06 643.84,472.11 644.53,472.16 645.22,472.21 645.90,472.25 646.59,472.29 647.28,472.34 647.96,472.38 648.65,472.42 649.34,472.45 650.02,472.49 650.71,472.52 651.39,472.56 652.08,472.59 652.77,472.62 653.45,472.64 654.14,472.67 654.83,472.69 655.51,472.71 656.20,472.73" fill="none" stroke="#6A00D6" stroke-width="3.4" stroke-linejoin="round" stroke-linecap="round"/>
<path d="M107.00 465.03L114.70 472.73L107.00 480.43L99.30 472.73Z" fill="#6A00D6"/>
<path d="M134.46 463.27L142.16 470.97L134.46 478.67L126.76 470.97Z" fill="#6A00D6"/>
<path d="M161.92 459.30L169.62 467.00L161.92 474.70L154.22 467.00Z" fill="#6A00D6"/>
<path d="M189.38 437.06L197.08 444.76L189.38 452.46L181.68 444.76Z" fill="#6A00D6"/>
<path d="M216.84 396.33L224.54 404.03L216.84 411.73L209.14 404.03Z" fill="#6A00D6"/>
<path d="M244.30 208.72L252.00 216.42L244.30 224.12L236.60 216.42Z" fill="#6A00D6"/>
<path d="M271.76 116.67L279.46 124.37L271.76 132.07L264.06 124.37Z" fill="#6A00D6"/>
<path d="M299.22 105.22L306.92 112.92L299.22 120.62L291.52 112.92Z" fill="#6A00D6"/>
<path d="M326.68 97.29L334.38 104.99L326.68 112.69L318.98 104.99Z" fill="#6A00D6"/>
<path d="M354.14 90.25L361.84 97.95L354.14 105.65L346.44 97.95Z" fill="#6A00D6"/>
<path d="M381.60 85.84L389.30 93.54L381.60 101.24L373.90 93.54Z" fill="#6A00D6"/>
<path d="M409.06 90.25L416.76 97.95L409.06 105.65L401.36 97.95Z" fill="#6A00D6"/>
<path d="M436.52 97.29L444.22 104.99L436.52 112.69L428.82 104.99Z" fill="#6A00D6"/>
<path d="M463.98 105.22L471.68 112.92L463.98 120.62L456.28 112.92Z" fill="#6A00D6"/>
<path d="M491.44 116.67L499.14 124.37L491.44 132.07L483.74 124.37Z" fill="#6A00D6"/>
<path d="M518.90 208.72L526.60 216.42L518.90 224.12L511.20 216.42Z" fill="#6A00D6"/>
<path d="M546.36 396.33L554.06 404.03L546.36 411.73L538.66 404.03Z" fill="#6A00D6"/>
<path d="M573.82 437.06L581.52 444.76L573.82 452.46L566.12 444.76Z" fill="#6A00D6"/>
<path d="M601.28 459.30L608.98 467.00L601.28 474.70L593.58 467.00Z" fill="#6A00D6"/>
<path d="M628.74 463.27L636.44 470.97L628.74 478.67L621.04 470.97Z" fill="#6A00D6"/>
<path d="M656.20 465.03L663.90 472.73L656.20 480.43L648.50 472.73Z" fill="#6A00D6"/>
</g>
<path d="M79.5 0.6V485.5H683.8V0.6Z" fill="none" stroke="#000" stroke-width="2.1"/>
<text x="68.8" y="492.30" text-anchor="end" font-size="20.5">0%</text>
<text x="68.8" y="404.22" text-anchor="end" font-size="20.5">20%</text>
<text x="68.8" y="316.14" text-anchor="end" font-size="20.5">40%</text>
<text x="68.8" y="228.06" text-anchor="end" font-size="20.5">60%</text>
<text x="68.8" y="139.98" text-anchor="end" font-size="20.5">80%</text>
<text x="68.8" y="51.90" text-anchor="end" font-size="20.5">100%</text>
<text x="107.00" y="511.7" text-anchor="middle" font-size="20.5">-2</text>
<text x="244.30" y="511.7" text-anchor="middle" font-size="20.5">-1</text>
<text x="381.60" y="511.7" text-anchor="middle" font-size="20.5">0</text>
<text x="518.90" y="511.7" text-anchor="middle" font-size="20.5">1</text>
<text x="656.20" y="511.7" text-anchor="middle" font-size="20.5">2</text>
<text x="381.6" y="539.4" text-anchor="middle" font-size="25.3">Distance from leakage hole/m</text>
<text transform="translate(17.6 243.5) rotate(-90)" x="0" y="0" text-anchor="middle" font-size="25.25">Hydrogen volume fraction</text>
<path d="M519.2 22.0H576.3" stroke="#000000" stroke-width="3.4" stroke-linecap="round"/>
<rect x="542.30" y="16.50" width="11.0" height="11.0" fill="#000000"/>
<text x="582.5" y="30.60" font-size="25.3">0.3MPa</text>
<path d="M519.2 53.0H576.3" stroke="#F04143" stroke-width="3.4" stroke-linecap="round"/>
<circle cx="547.80" cy="53.00" r="6.2" fill="#F04143"/>
<text x="582.5" y="61.60" font-size="25.3">0.5MPa</text>
<path d="M519.2 84.0H576.3" stroke="#1C6FE0" stroke-width="3.4" stroke-linecap="round"/>
<path d="M547.80 75.60L555.10 88.20L540.50 88.20Z" fill="#1C6FE0"/>
<text x="582.5" y="92.60" font-size="25.3">0.8MPa</text>
<path d="M519.2 115.0H576.3" stroke="#FF8000" stroke-width="3.4" stroke-linecap="round"/>
<path d="M547.80 123.40L555.10 110.80L540.50 110.80Z" fill="#FF8000"/>
<text x="582.5" y="123.60" font-size="25.3">1.0MPa</text>
<path d="M519.2 145.7H576.3" stroke="#6A00D6" stroke-width="3.4" stroke-linecap="round"/>
<path d="M547.80 138.00L555.50 145.70L547.80 153.40L540.10 145.70Z" fill="#6A00D6"/>
<text x="582.5" y="154.30" font-size="25.3">1.5MPa</text>
</svg>
</body></html>
